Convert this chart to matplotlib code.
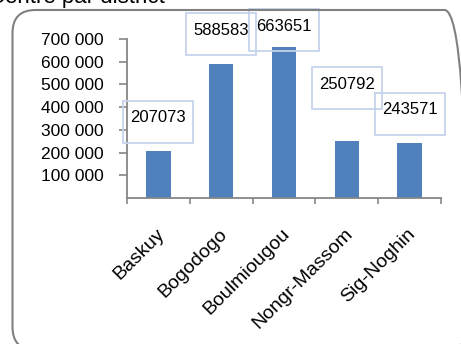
import matplotlib
matplotlib.use("Agg")
import matplotlib.pyplot as plt
from matplotlib.patches import FancyBboxPatch, Rectangle
from matplotlib.transforms import IdentityTransform, ScaledTranslation

districts = ["Baskuy", "Bogodogo", "Boulmiougou", "Nongr-Massom", "Sig-Noghin"]
effectifs = [207073, 588583, 663651, 250792, 243571]
yticks = [100000, 200000, 300000, 400000, 500000, 600000, 700000]

# how far (px) each label box sits above its bar top
label_lift = [29, 30, 17, 53, 29]

plt.rcParams['font.family'] = ['Liberation Sans', 'DejaVu Sans']

W, H = 461, 344
fig = plt.figure(figsize=(W / 100, H / 100), dpi=100)

# rounded frame around the chart
frame = FancyBboxPatch((12.5, -6), 455, 340,
                       boxstyle="round,pad=0,rounding_size=23",
                       transform=IdentityTransform(), fill=False,
                       ec="#808080", lw=1.5)
fig.patches.append(frame)

fig.text(165 / W, (H - 3.5) / H, "Centre par district", ha="right",
         va="baseline", fontsize=16, color="black")

ax_h_px = 159
ax = fig.add_axes([127 / W, (H - 198) / H, 314 / W, ax_h_px / H])
ax.patch.set_alpha(0)

x = list(range(len(districts)))
ax.bar(x, effectifs, width=0.39, color="#4f81bd", zorder=2)

ax.set_xlim(-0.5, len(districts) - 0.5)
ax.set_ylim(0, 700000)

ax.set_yticks(yticks)
ax.set_yticklabels([f"{v:,}".replace(",", " ") for v in yticks], fontsize=12.5)
ax.tick_params(axis="y", length=6, width=1.2, color="#868686", pad=11)

ax.set_xticks(x)
ax.set_xticklabels(districts, rotation=45, ha="right", va="top",
                   rotation_mode="anchor", fontsize=14)
ax.set_xticks([i - 0.5 for i in range(len(districts) + 1)], minor=True)
ax.tick_params(axis="x", which="major", length=0, pad=19)
ax.tick_params(axis="x", which="minor", length=4, width=1.2, color="#868686")
shift = ScaledTranslation(-3 / 100, -1 / 100, fig.dpi_scale_trans)
for lab in ax.get_xticklabels():
    lab.set_transform(lab.get_transform() + shift)

for side in ("top", "right"):
    ax.spines[side].set_visible(False)
for side in ("left", "bottom"):
    ax.spines[side].set_color("#868686")
    ax.spines[side].set_linewidth(1.3)

# value labels in light outlined boxes
upp = 700000 / ax_h_px
for i, v in enumerate(effectifs):
    cy = v + label_lift[i] * upp
    ax.add_patch(Rectangle((i - 0.557, cy - 21 * upp), 1.115, 42 * upp,
                           fill=False, ec="#c6d3ea", lw=1.3,
                           clip_on=False, zorder=3))
    ax.text(i, cy + 4 * upp, str(v), ha="center", va="center",
            fontsize=12, zorder=4, clip_on=False)

fig.savefig("out.png", dpi=100)
